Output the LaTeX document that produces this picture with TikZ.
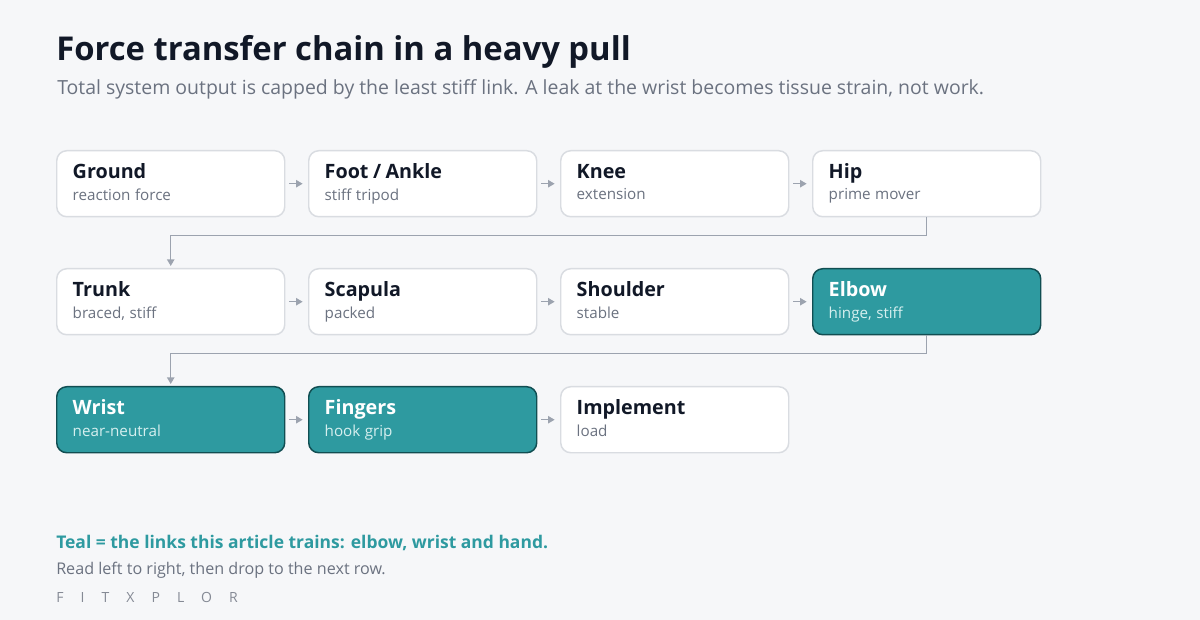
\documentclass[tikz,border=0pt]{standalone}
\usepackage{fontspec}
\setmainfont{Open Sans}
\usetikzlibrary{arrows.meta}

\definecolor{bgpage}{HTML}{F6F7F9}
\definecolor{ink}{HTML}{111827}
\definecolor{muted}{HTML}{6B7280}
\definecolor{edge}{HTML}{D9DCE1}
\definecolor{arrowgray}{HTML}{9CA3AF}
\definecolor{teal}{HTML}{2E9AA0}
\definecolor{tealdark}{HTML}{114E52}
\definecolor{tealsub}{HTML}{D6EFEF}

\newcommand{\jointname}[1]{{\fontsize{14.8pt}{16pt}\selectfont\bfseries\rule[-4pt]{0pt}{16.25pt}#1}}
\newcommand{\jointnote}[1]{{\fontsize{11.4pt}{13pt}\selectfont\rule[-4pt]{0pt}{11pt}#1}}

\tikzset{
  joint/.style={draw=edge, fill=white, line width=1.1pt, rounded corners=7.5pt,
    anchor=north west, minimum width=171pt, minimum height=49.5pt,
    text width=147pt, align=left, inner xsep=12pt, text=ink},
  trained/.style={joint, draw=tealdark, fill=teal, text=white},
  link/.style={draw=arrowgray, line width=1.1pt, -{Triangle[length=5pt,width=5.5pt]}},
}

\begin{document}
\begin{tikzpicture}[x=0.75pt, y=-0.75pt]
\fill[bgpage] (0,0) rectangle (1200,620);
\useasboundingbox (0,0) rectangle (1200,620);

\node[anchor=base west, inner sep=0, text=ink] (title) at (56,61)
  {\fontsize{24.6pt}{30pt}\selectfont\bfseries Force transfer chain in a heavy pull};
\node[anchor=base west, inner sep=0, text=muted] (subtitle) at (57,95)
  {\fontsize{14.6pt}{17pt}\selectfont Total system output is capped by the least stiff link. A leak at the wrist becomes tissue strain, not work.};

% row 1
\node[joint] (ground) at (56,150) {\jointname{Ground}\\[2.75pt]\textcolor{muted}{\jointnote{reaction force}}};
\node[joint] (foot) at (308,150) {\jointname{Foot / Ankle}\\[2.75pt]\textcolor{muted}{\jointnote{stiff tripod}}};
\node[joint] (knee) at (560,150) {\jointname{Knee}\\[2.75pt]\textcolor{muted}{\jointnote{extension}}};
\node[joint] (hip) at (812,150) {\jointname{Hip}\\[2.75pt]\textcolor{muted}{\jointnote{prime mover}}};

% row 2
\node[joint] (trunk) at (56,268) {\jointname{Trunk}\\[2.75pt]\textcolor{muted}{\jointnote{braced, stiff}}};
\node[joint] (scapula) at (308,268) {\jointname{Scapula}\\[2.75pt]\textcolor{muted}{\jointnote{packed}}};
\node[joint] (shoulder) at (560,268) {\jointname{Shoulder}\\[2.75pt]\textcolor{muted}{\jointnote{stable}}};
\node[trained] (elbow) at (812,268) {\jointname{Elbow}\\[2.75pt]\textcolor{tealsub}{\jointnote{hinge, stiff}}};

% row 3
\node[trained] (wrist) at (56,386) {\jointname{Wrist}\\[2.75pt]\textcolor{tealsub}{\jointnote{near-neutral}}};
\node[trained] (fingers) at (308,386) {\jointname{Fingers}\\[2.75pt]\textcolor{tealsub}{\jointnote{hook grip}}};
\node[joint] (implement) at (560,386) {\jointname{Implement}\\[2.75pt]\textcolor{muted}{\jointnote{load}}};

% links along each row
\draw[link] ([xshift=3pt]ground.east) -- ([xshift=-4pt]foot.west);
\draw[link] ([xshift=3pt]foot.east) -- ([xshift=-4pt]knee.west);
\draw[link] ([xshift=3pt]knee.east) -- ([xshift=-4pt]hip.west);
\draw[link] ([xshift=3pt]trunk.east) -- ([xshift=-4pt]scapula.west);
\draw[link] ([xshift=3pt]scapula.east) -- ([xshift=-4pt]shoulder.west);
\draw[link] ([xshift=3pt]shoulder.east) -- ([xshift=-4pt]elbow.west);
\draw[link] ([xshift=3pt]wrist.east) -- ([xshift=-4pt]fingers.west);
\draw[link] ([xshift=3pt]fingers.east) -- ([xshift=-4pt]implement.west);

% drops to the next row
\draw[link] (hip.south) -- ++(0,18) -| ([yshift=1.5pt]trunk.north);
\draw[link] (elbow.south) -- ++(0,18) -| ([yshift=1.5pt]wrist.north);

% footer
\node[anchor=base west, inner sep=0, text=teal] (key) at (56,548)
  {\fontsize{13.1pt}{16pt}\selectfont\bfseries Teal = the links this article trains: elbow, wrist and hand.};
\node[anchor=base west, inner sep=0, text=muted] (hint) at (56,574)
  {\fontsize{12.1pt}{14pt}\selectfont Read left to right, then drop to the next row.};
\node[anchor=base west, inner sep=0, text=arrowgray!85!black] (brand) at (56,602)
  {\fontsize{10.5pt}{12pt}\selectfont\addfontfeature{LetterSpace=122}FITXPLOR};
\end{tikzpicture}
\end{document}
